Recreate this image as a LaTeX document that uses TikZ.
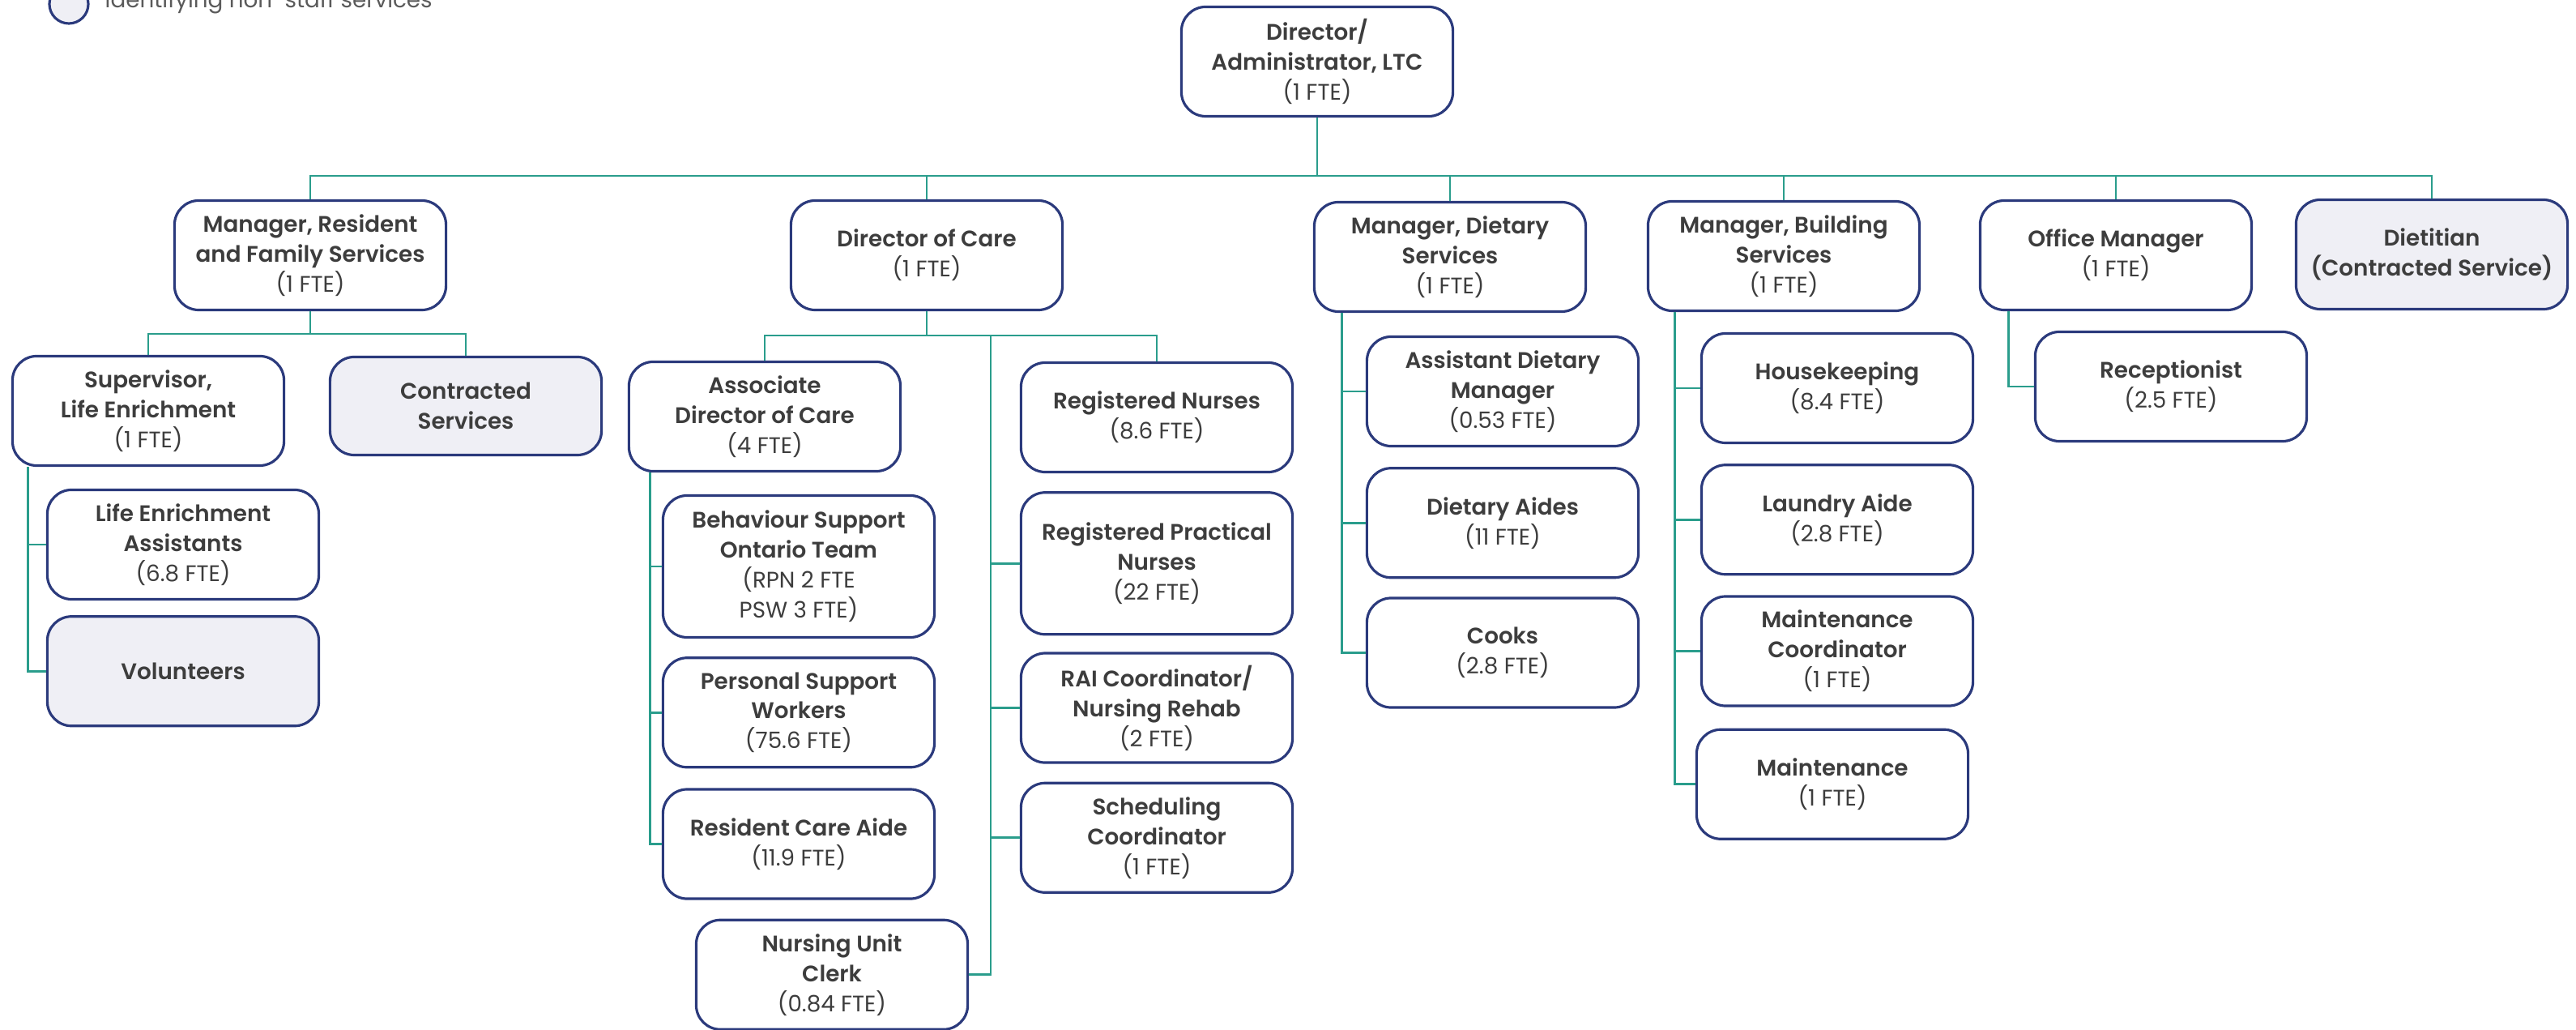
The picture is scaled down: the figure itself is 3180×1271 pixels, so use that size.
\documentclass[tikz,border=0pt]{standalone}
\usepackage{fontspec}
\setmainfont{Poppins}
\newfontfamily\titlefont{Poppins SemiBold}
\newfontfamily\ftefont{Poppins}
\usetikzlibrary{positioning}

\definecolor{navy}{HTML}{2B3A7C}
\definecolor{linkteal}{HTML}{2A9D8C}
\definecolor{haze}{HTML}{EFEFF5}
\definecolor{ink}{HTML}{3D3D3D}
\newcommand\fte[1]{{\ftefont #1}}

\begin{document}
\begin{tikzpicture}[x=0.01cm,y=-0.01cm,
  unit/.style={draw=navy,line width=0.9pt,rounded corners=0.3cm,fill=white,text=ink,align=center,
    font=\titlefont\fontsize{7.9}{10.5}\selectfont,inner sep=0pt,minimum width=3.35cm,minimum height=1.35cm},
  tall/.style={unit,minimum height=1.75cm},
  extern/.style={unit,fill=haze},
  conn/.style={draw=linkteal,line width=0.8pt}]
\clip (0,0) rectangle (3180,1271);
% legend
\node[circle,draw=navy,line width=0.9pt,fill=haze,minimum size=0.48cm,inner sep=0pt] (legdot) at (85,5) {};
\node[anchor=base west,inner sep=0pt,text=ink!85,font=\fontsize{7.9}{10}\selectfont] (legtxt) at (129,10) {Identifying non-staff services};

% top and first level
\node[unit] (dir) at (1626,76) {Director/\\Administrator, LTC\\\fte{(1 FTE)}};
\node[unit] (mrfs) at (383,315) {Manager, Resident\\and Family Services\\\fte{(1 FTE)}};
\node[unit] (doc) at (1144,315) {Director of Care\\\fte{(1 FTE)}};
\node[unit] (mds) at (1790,317) {Manager, Dietary\\Services\\\fte{(1 FTE)}};
\node[unit] (mbs) at (2202,316) {Manager, Building\\Services\\\fte{(1 FTE)}};
\node[unit] (om) at (2612,315) {Office Manager\\\fte{(1 FTE)}};
\node[extern] (diet) at (3002,314) {Dietitian\\(Contracted Service)};

% resident and family services
\node[unit] (sle) at (183,507) {Supervisor,\\Life Enrichment\\\fte{(1 FTE)}};
\node[extern,minimum height=1.21cm] (cs) at (575,501) {Contracted\\Services};
\node[unit] (lea) at (226,672) {Life Enrichment\\Assistants\\\fte{(6.8 FTE)}};
\node[extern,below=0.18cm of lea] (vol) {Volunteers};

% care
\node[unit] (adoc) at (944,514) {Associate\\Director of Care\\\fte{(4 FTE)}};
\node[tall] (bso) at (986,699) {Behaviour Support\\Ontario Team\\\fte{(RPN 2 FTE}\\\fte{PSW 3 FTE)}};
\node[unit,below=0.22cm of bso] (psw) {Personal Support\\Workers\\\fte{(75.6 FTE)}};
\node[unit,below=0.24cm of psw] (rca) {Resident Care Aide\\\fte{(11.9 FTE)}};
\node[unit,below=0.23cm of rca,xshift=0.41cm] (nuc) {Nursing Unit\\Clerk\\\fte{(0.84 FTE)}};
\node[unit] (rn) at (1428,515) {Registered Nurses\\\fte{(8.6 FTE)}};
\node[tall,below=0.22cm of rn] (rpn) {Registered Practical\\Nurses\\\fte{(22 FTE)}};
\node[unit,below=0.2cm of rpn] (rai) {RAI Coordinator/\\Nursing Rehab\\\fte{(2 FTE)}};
\node[unit,below=0.22cm of rai] (sc) {Scheduling\\Coordinator\\\fte{(1 FTE)}};

% dietary
\node[unit] (adm) at (1855,483) {Assistant Dietary\\Manager\\\fte{(0.53 FTE)}};
\node[unit,below=0.24cm of adm] (da) {Dietary Aides\\\fte{(11 FTE)}};
\node[unit,below=0.22cm of da] (cooks) {Cooks\\\fte{(2.8 FTE)}};

% building
\node[unit] (hk) at (2268,479) {Housekeeping\\\fte{(8.4 FTE)}};
\node[unit,below=0.24cm of hk] (la) {Laundry Aide\\\fte{(2.8 FTE)}};
\node[unit,below=0.24cm of la] (mc) {Maintenance\\Coordinator\\\fte{(1 FTE)}};
\node[unit,below=0.26cm of mc,xshift=-0.06cm] (mnt) {Maintenance\\\fte{(1 FTE)}};

% office
\node[unit] (rec) at (2680,477) {Receptionist\\\fte{(2.5 FTE)}};

% links
\coordinate (bus) at (1626,217);
\draw[conn] (dir) -- (bus);
\foreach \n in {mrfs,doc,mds,mbs,om,diet} \draw[conn] (\n) |- (bus);

\coordinate (rfsbus) at (383,412);
\draw[conn] (mrfs) -- (rfsbus);
\draw[conn] (sle) |- (rfsbus) (cs) |- (rfsbus);
\coordinate (sletop) at ([xshift=0.21cm]sle.south west);
\draw[conn] (sletop) |- (lea) (sletop) |- (vol);

\coordinate (docbus) at (1144,414);
\coordinate (doctr) at (1223,414);
\draw[conn] (doc) -- (docbus);
\draw[conn] (adoc) |- (docbus) (rn) |- (docbus);
\foreach \n in {rpn,rai,sc,nuc} \draw[conn] (doctr) |- (\n);
\coordinate (adoctop) at ([xshift=0.28cm]adoc.south west);
\foreach \n in {bso,psw,rca} \draw[conn] (adoctop) |- (\n);

\coordinate (mdstop) at ([xshift=0.36cm]mds.south west);
\foreach \n in {adm,da,cooks} \draw[conn] (mdstop) |- (\n);
\coordinate (mbstop) at ([xshift=0.35cm]mbs.south west);
\foreach \n in {hk,la,mc,mnt} \draw[conn] (mbstop) |- (\n);
\coordinate (omtop) at ([xshift=0.37cm]om.south west);
\draw[conn] (omtop) |- (rec);
\end{tikzpicture}
\end{document}
